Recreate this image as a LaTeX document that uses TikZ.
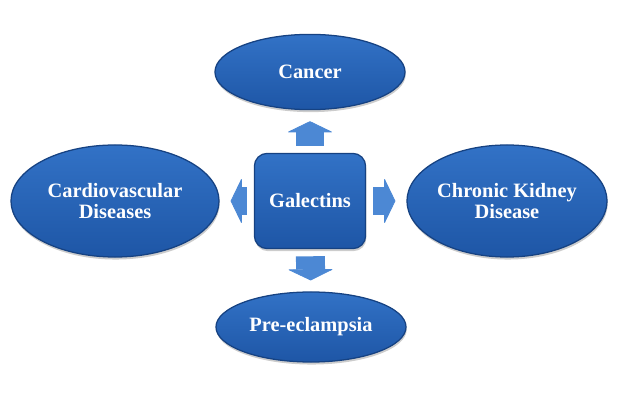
\documentclass[tikz,border=0pt]{standalone}
\usepackage{fontspec}
\setmainfont{Liberation Serif}
\usetikzlibrary{shapes.geometric,arrows.meta,shadows}

\definecolor{galtop}{RGB}{50,114,198}
\definecolor{galbot}{RGB}{30,86,166}
\definecolor{galrim}{RGB}{22,66,130}
\definecolor{flowblue}{RGB}{76,136,212}

\tikzset{
  disease/.style={ellipse, inner sep=0pt, draw=galrim, line width=0.9pt,
    top color=galtop, bottom color=galbot, text=white, align=center,
    font=\fontsize{14.5}{15}\selectfont\bfseries,
    drop shadow={shadow xshift=0.5pt, shadow yshift=-1.8pt, opacity=0.4}},
  hub/.style={rectangle, rounded corners=0.32cm, inner sep=0pt, draw=galrim, line width=0.9pt,
    top color=galtop, bottom color=galbot, text=white,
    font=\fontsize{14.5}{15}\selectfont\bfseries,
    minimum width=2.78cm, minimum height=2.38cm,
    drop shadow={shadow xshift=0.5pt, shadow yshift=-1.8pt, opacity=0.4}},
  flow/.style={draw=flowblue, line width=20.6pt,
    -{Triangle[length=8pt, width=33pt, line width=0.6pt, round]},
    shorten <=5pt, shorten >=7.8pt}
}

\begin{document}
\begin{tikzpicture}[x=0.025cm, y=-0.025cm]

\useasboundingbox (0,0) rectangle (620,400);

\node[hub] (gal) at (310,201) {Galectins};

\node[disease, minimum width=4.75cm, minimum height=1.88cm] (cancer) at (310,72) {Cancer};
\node[disease, minimum width=5.2cm, minimum height=2.8cm] (cardio) at (115,201) {Cardiovascular\\Diseases};
\node[disease, minimum width=5.0cm, minimum height=2.8cm] (ckd) at (507,201) {Chronic Kidney\\Disease};
\node[disease, minimum width=4.75cm, minimum height=1.75cm] (pre) at (311,327) {Pre-eclampsia};

\draw[flow] (gal) -- (cancer);
\draw[flow] (gal) -- (cardio);
\draw[flow] (gal) -- (ckd);
\draw[flow] (gal) -- (pre);

\end{tikzpicture}
\end{document}
